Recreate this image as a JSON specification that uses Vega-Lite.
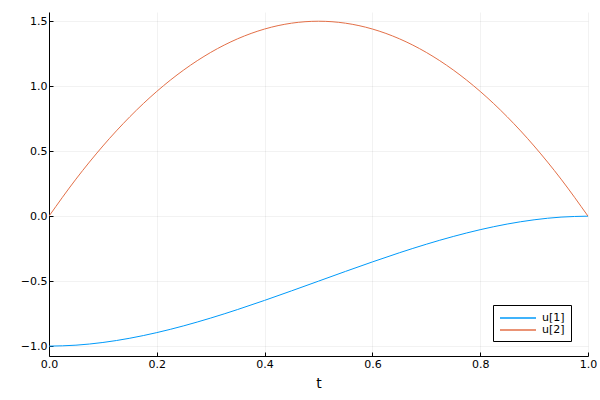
{
  "$schema": "https://vega.github.io/schema/vega-lite/v6.json",
  "width": 539,
  "height": 344,
  "autosize": "none",
  "padding": {"left": 49, "top": 12, "right": 12, "bottom": 44},
  "background": "white",
  "config": {
    "view": {"stroke": null},
    "font": "DejaVu Sans",
    "axis": {
      "domainColor": "black",
      "domainWidth": 1,
      "tickColor": "black",
      "tickSize": -4,
      "labelFlush": false,
      "labelFont": "DejaVu Sans",
      "labelFontSize": 11,
      "labelColor": "black",
      "gridColor": "black",
      "gridOpacity": 0.1,
      "gridWidth": 0.5,
      "titleFont": "DejaVu Sans",
      "titleFontWeight": "normal",
      "titleFontSize": 14,
      "titleColor": "black"
    },
    "legend": {
      "labelFont": "DejaVu Sans",
      "labelFontSize": 11,
      "labelColor": "black"
    }
  },
  "data": {
    "values": [
      {"t": 0, "v": -1, "s": "u[1]"},
      {"t": 0.05, "v": -0.99275, "s": "u[1]"},
      {"t": 0.1, "v": -0.972, "s": "u[1]"},
      {"t": 0.15, "v": -0.93925, "s": "u[1]"},
      {"t": 0.2, "v": -0.896, "s": "u[1]"},
      {"t": 0.25, "v": -0.84375, "s": "u[1]"},
      {"t": 0.3, "v": -0.784, "s": "u[1]"},
      {"t": 0.35, "v": -0.71825, "s": "u[1]"},
      {"t": 0.4, "v": -0.648, "s": "u[1]"},
      {"t": 0.45, "v": -0.57475, "s": "u[1]"},
      {"t": 0.5, "v": -0.5, "s": "u[1]"},
      {"t": 0.55, "v": -0.42525, "s": "u[1]"},
      {"t": 0.6, "v": -0.352, "s": "u[1]"},
      {"t": 0.65, "v": -0.28175, "s": "u[1]"},
      {"t": 0.7, "v": -0.216, "s": "u[1]"},
      {"t": 0.75, "v": -0.15625, "s": "u[1]"},
      {"t": 0.8, "v": -0.104, "s": "u[1]"},
      {"t": 0.85, "v": -0.06075, "s": "u[1]"},
      {"t": 0.9, "v": -0.028, "s": "u[1]"},
      {"t": 0.95, "v": -0.00725, "s": "u[1]"},
      {"t": 1, "v": 0, "s": "u[1]"},
      {"t": 0, "v": 0, "s": "u[2]"},
      {"t": 0.05, "v": 0.285, "s": "u[2]"},
      {"t": 0.1, "v": 0.54, "s": "u[2]"},
      {"t": 0.15, "v": 0.765, "s": "u[2]"},
      {"t": 0.2, "v": 0.96, "s": "u[2]"},
      {"t": 0.25, "v": 1.125, "s": "u[2]"},
      {"t": 0.3, "v": 1.26, "s": "u[2]"},
      {"t": 0.35, "v": 1.365, "s": "u[2]"},
      {"t": 0.4, "v": 1.44, "s": "u[2]"},
      {"t": 0.45, "v": 1.485, "s": "u[2]"},
      {"t": 0.5, "v": 1.5, "s": "u[2]"},
      {"t": 0.55, "v": 1.485, "s": "u[2]"},
      {"t": 0.6, "v": 1.44, "s": "u[2]"},
      {"t": 0.65, "v": 1.365, "s": "u[2]"},
      {"t": 0.7, "v": 1.26, "s": "u[2]"},
      {"t": 0.75, "v": 1.125, "s": "u[2]"},
      {"t": 0.8, "v": 0.96, "s": "u[2]"},
      {"t": 0.85, "v": 0.765, "s": "u[2]"},
      {"t": 0.9, "v": 0.54, "s": "u[2]"},
      {"t": 0.95, "v": 0.285, "s": "u[2]"},
      {"t": 1, "v": 0, "s": "u[2]"}
    ]
  },
  "mark": {"type": "line", "strokeWidth": 1, "interpolate": "monotone", "clip": true},
  "encoding": {
    "x": {
      "field": "t",
      "type": "quantitative",
      "scale": {"domain": [0, 1], "nice": false, "zero": false},
      "axis": {"title": "t", "values": [0, 0.2, 0.4, 0.6, 0.8, 1.0], "format": ".1f", "labelPadding": 6, "titlePadding": 7}
    },
    "y": {
      "field": "v",
      "type": "quantitative",
      "scale": {"domain": [-1.076, 1.571], "nice": false, "zero": false},
      "axis": {"title": null, "values": [-1, -0.5, 0, 0.5, 1, 1.5], "format": ".1f", "labelPadding": 6}
    },
    "color": {
      "field": "s",
      "type": "nominal",
      "scale": {"domain": ["u[1]", "u[2]"], "range": ["#009AFA", "#E36F47"]},
      "legend": {
        "title": null,
        "orient": "none",
        "legendX": 444,
        "legendY": 293,
        "symbolType": "M-1,0H5",
        "symbolSize": 144,
        "symbolStrokeWidth": 1.3,
        "strokeColor": "black",
        "fillColor": "white",
        "padding": 6,
        "rowPadding": 0,
        "labelOffset": 29,
        "encode": {
          "symbols": {
            "update": {
              "stroke": {"signal": "datum.value === 'u[1]' ? '#009AFA' : '#E36F47'"},
              "fill": {"value": "transparent"}
            }
          }
        }
      }
    }
  }
}
